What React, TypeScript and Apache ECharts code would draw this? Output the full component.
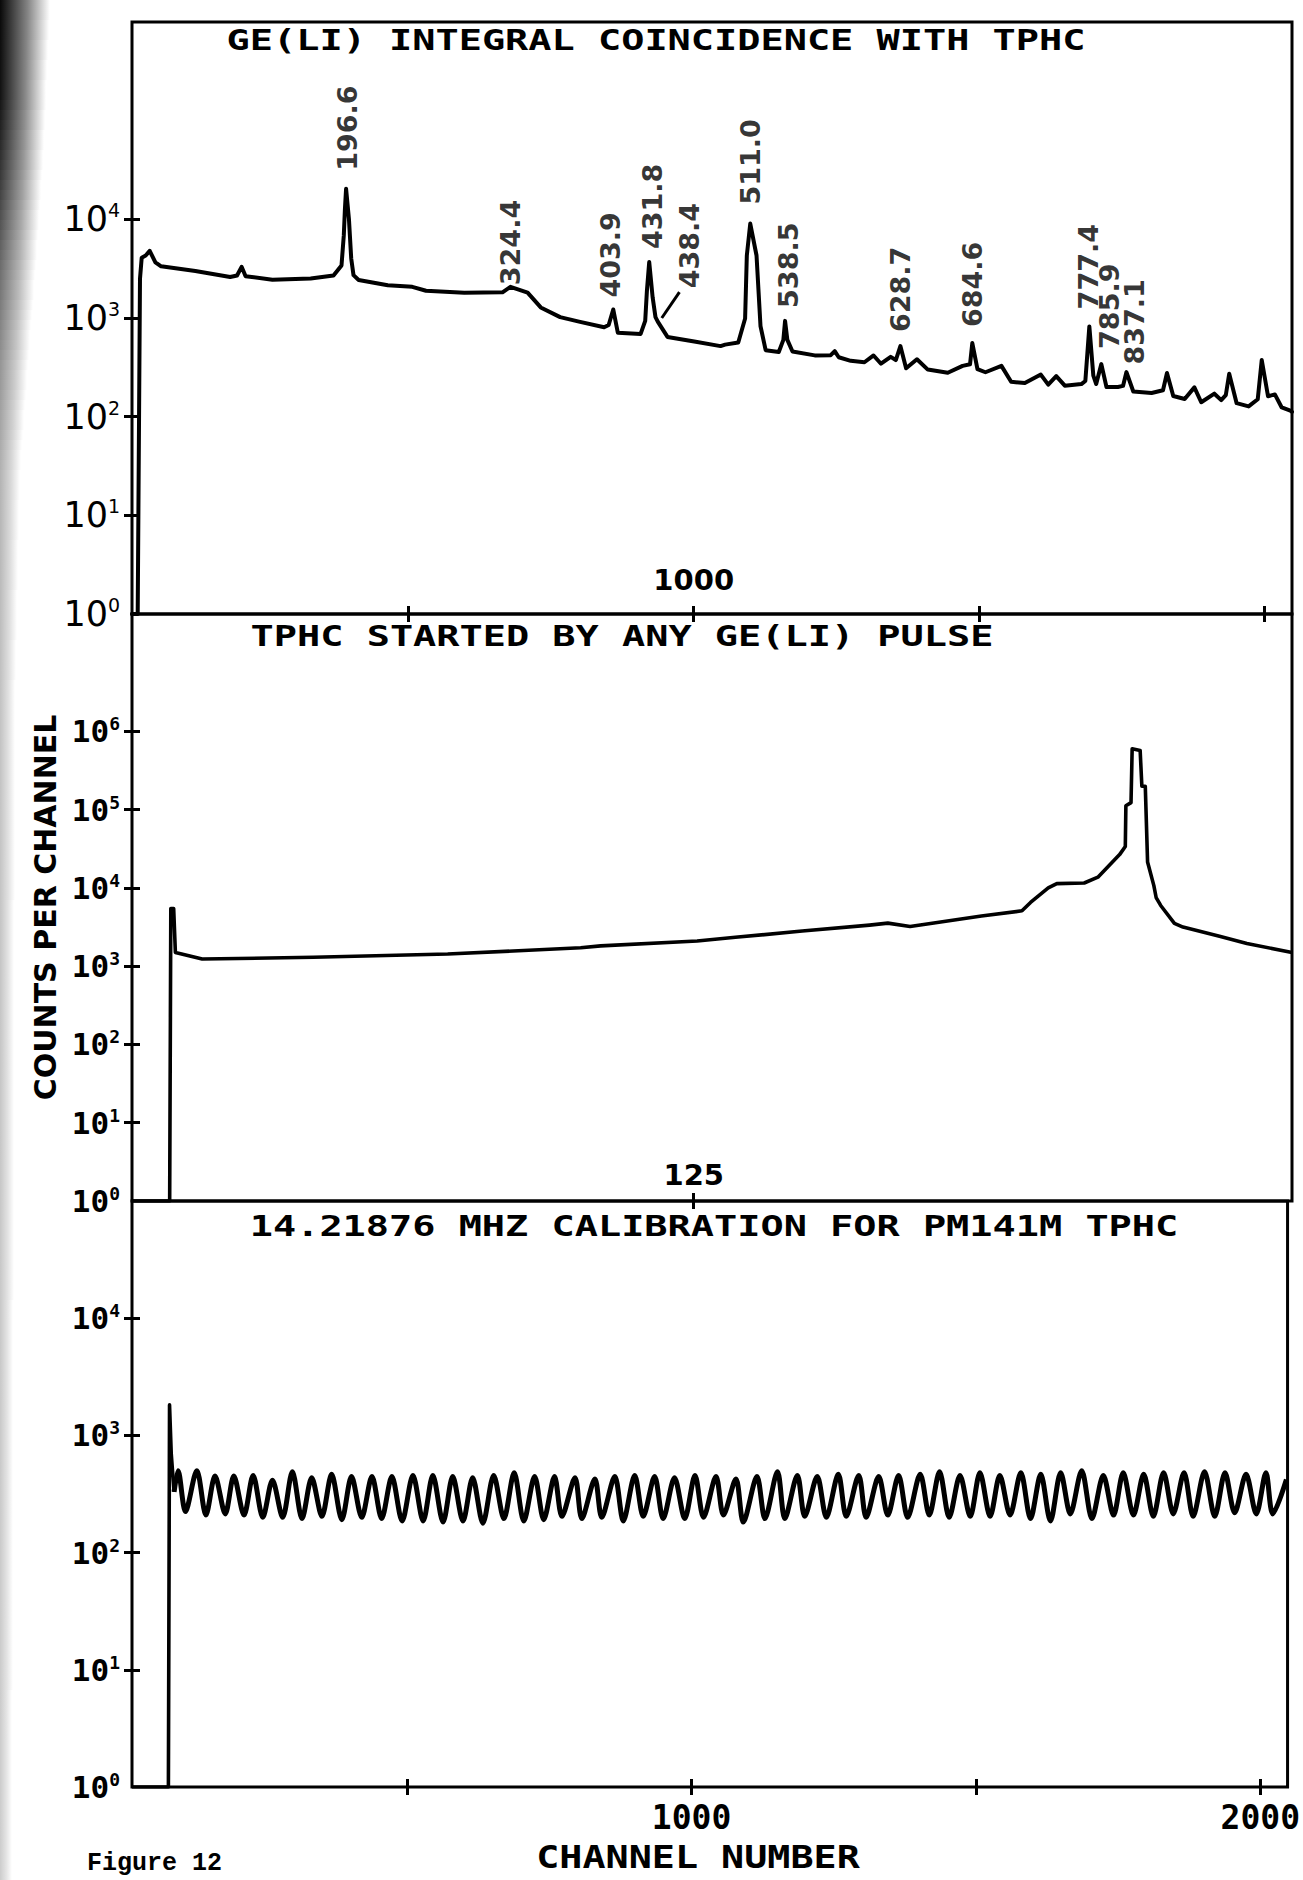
import React, { useEffect, useRef } from "react";
import * as echarts from "echarts";

// ---------- shared channel axis ----------
const CH_MIN = 16;
const CH_MAX = 2048;
const channelTicks = [500, 1000, 1500, 2000];
const topPanelLabelChannels = [1000];
const midPanelTickChannels = [1000];
const midPanelTickLabel = "125";
const bottomPanelLabelChannels = [1000, 2000];

// ---------- panel 1: Ge(Li) integral coincidence with TPHC ----------
const geliChannels = [
  16, 26, 30, 33, 40, 47, 57, 67, 127, 188,
  200, 208, 215, 262, 329, 369, 383, 387, 389, 391,
  396, 400, 404, 413, 464, 507, 531, 598, 665, 679,
  709, 732, 766, 799, 843, 851, 859, 867, 907, 915,
  918, 922, 928, 933, 937, 954, 1001, 1047, 1055, 1078,
  1090, 1093, 1099, 1110, 1117, 1126, 1149, 1157, 1160, 1164,
  1173, 1212, 1240, 1247, 1254, 1275, 1299, 1315, 1328, 1345,
  1354, 1362, 1372, 1391, 1410, 1445, 1471, 1484, 1488, 1497,
  1511, 1539, 1556, 1580, 1608, 1621, 1635, 1650, 1679, 1686,
  1693, 1700, 1705, 1714, 1723, 1743, 1752, 1758, 1770, 1802,
  1822, 1829, 1840, 1860, 1877, 1889, 1912, 1924, 1932, 1938,
  1951, 1972, 1988, 1995, 2006, 2018, 2030, 2045, 2048,
];
const geliCounts = [
  1, 1, 2500, 4090, 4300, 4790, 3670, 3340, 3000, 2600,
  2700, 3300, 2650, 2445, 2520, 2700, 3410, 6870, 12800, 20400,
  10100, 4010, 2720, 2430, 2150, 2070, 1890, 1800, 1820, 2070,
  1810, 1280, 1020, 918, 805, 850, 1220, 710, 690, 935,
  1890, 3690, 1620, 1020, 918, 643, 577, 519, 537, 564,
  988, 4290, 9050, 4300, 824, 472, 453, 600, 935, 600,
  457, 418, 420, 461, 400, 368, 356, 417, 344, 404,
  375, 519, 309, 382, 300, 279, 327, 340, 557, 304,
  282, 327, 226, 219, 267, 211, 258, 206, 214, 230,
  820, 260, 214, 341, 200, 200, 205, 283, 180, 174,
  185, 277, 162, 151, 198, 140, 171, 147, 165, 272,
  137, 127, 150, 375, 161, 168, 124, 115, 112,
];

// gamma-ray energies (keV); each label starts at (channel, counts) and reads upward
const peakEnergies = ["196.6", "324.4", "403.9", "431.8", "438.4", "511.0", "538.5", "628.7", "684.6", "777.4", "785.9", "837.1"];
const peakLabelChannels = [393, 679, 854, 927, 993, 1100, 1166, 1363, 1488, 1692, 1729, 1772];
const peakLabelCounts = [31000, 2150, 1610, 5000, 2000, 14100, 1265, 720, 809, 1222, 486, 337];

// pointer from the 438.4 label to its shoulder
const leaderChannels = [944, 975];
const leaderCounts = [1000, 1830];

// ---------- panel 2: TPHC started by any Ge(Li) pulse ----------
const tphcChannels = [
  16, 82, 84, 89, 92, 139, 334, 569, 802, 837,
  1006, 1073, 1190, 1308, 1340, 1379, 1504, 1575, 1590, 1621,
  1636, 1684, 1708, 1746, 1756, 1757, 1766, 1768, 1782, 1785,
  1791, 1795, 1806, 1810, 1818, 1842, 1857, 1921, 1969, 2048,
];
const tphcCounts = [
  1, 1, 5460, 5460, 1500, 1235, 1300, 1430, 1720, 1820,
  2100, 2340, 2810, 3350, 3550, 3210, 4370, 5100, 6520, 10000,
  11360, 11560, 13740, 26650, 33900, 112000, 123000, 600000, 571000, 199000,
  199000, 21500, 10700, 7540, 5970, 3520, 3160, 2420, 1950, 1500,
];

// ---------- panel 3: 14.21876 MHz calibration ----------
const calLeadChannels = [16, 80, 82, 85, 90];
const calLeadCounts = [1, 1, 1820, 700, 330];
const calPeakChannels = [
  97, 130, 162, 195, 229, 263, 298, 332, 367, 402,
  438, 473, 510, 545, 580, 615, 652, 688, 724, 759,
  795, 830, 865, 900, 935, 970, 1006, 1043, 1078, 1115,
  1151, 1186, 1221, 1258, 1294, 1329, 1364, 1402, 1436, 1472,
  1507, 1542, 1579, 1614, 1649, 1686, 1724, 1759, 1795, 1830,
  1866, 1902, 1938, 1975, 2010,
];
const calPeakCounts = [
  500, 500, 450, 450, 455, 415, 490, 435, 465, 445,
  445, 445, 455, 455, 445, 435, 455, 480, 445, 445,
  435, 425, 445, 455, 445, 435, 455, 445, 425, 445,
  490, 455, 445, 465, 455, 445, 455, 465, 490, 455,
  480, 455, 480, 465, 480, 500, 455, 480, 465, 480,
  480, 490, 480, 465, 480,
];
const calTroughChannels = [
  110, 146, 180, 213, 246, 281, 315, 350, 385, 420,
  455, 491, 528, 563, 598, 633, 670, 705, 740, 772,
  807, 842, 880, 915, 950, 988, 1021, 1056, 1091, 1129,
  1164, 1199, 1237, 1272, 1307, 1345, 1380, 1418, 1453, 1490,
  1525, 1560, 1596, 1631, 1666, 1704, 1742, 1777, 1812, 1847,
  1882, 1920, 1955, 1993, 2022,
];
const calTroughCounts = [
  224, 209, 214, 209, 200, 200, 195, 204, 191, 200,
  195, 186, 186, 182, 186, 178, 195, 186, 191, 204,
  195, 200, 186, 204, 195, 195, 200, 209, 182, 195,
  195, 204, 200, 204, 200, 209, 200, 209, 200, 204,
  204, 209, 195, 186, 214, 195, 209, 209, 204, 214,
  204, 204, 219, 214, 214,
];
const calTailChannel = 2046;
const calTailCount = 420;

// ---------- decade ticks ----------
const topDecadeTicks = [10, 100, 1e3, 1e4];
const topDecadeLabels = [1, 10, 100, 1e3, 1e4];
const midDecadeTicks = [10, 100, 1e3, 1e4, 1e5, 1e6];
const midDecadeLabels = [1, 10, 100, 1e3, 1e4, 1e5, 1e6];
const lowDecadeTicks = [10, 100, 1e3, 1e4];
const lowDecadeLabels = [1, 10, 100, 1e3, 1e4];

const TOP_MAX = 1e6;
const MID_MAX = Math.pow(10, 7.5);
const LOW_MAX = 1e5;

// ---------- styling ----------
const INK = "#000";
const PLOTTER_FONT = "DejaVu Sans Mono";
const LETTER_FONT = "DejaVu Sans";
const GRID_LEFT = 132;
const GRID_WIDTH = 1160;

// darkened page edge along the binding: [y, width, opacity]
const edgeShadeStops = [
  [0, 50, 0.97],
  [90, 46, 0.93],
  [170, 42, 0.78],
  [260, 36, 0.58],
  [360, 28, 0.42],
  [470, 20, 0.3],
  [700, 15, 0.24],
  [1880, 12, 0.2],
];

const zip = (xs: number[], ys: number[]) => xs.map((x, i) => [x, ys[i]]);
const decadeLabel = (v: number) => `{b|10}{s|${Math.round(Math.log10(v))}}`;

const richLetter = {
  b: { fontFamily: LETTER_FONT, fontSize: 35, color: INK, lineHeight: 37 },
  s: { fontFamily: LETTER_FONT, fontSize: 19, color: INK, verticalAlign: "top", lineHeight: 19 },
};
const richPlotter = {
  b: { fontFamily: PLOTTER_FONT, fontWeight: "bold", fontSize: 31, color: INK, lineHeight: 33 },
  s: { fontFamily: PLOTTER_FONT, fontWeight: "bold", fontSize: 18, color: INK, verticalAlign: "top", lineHeight: 18 },
};

const tickLine = { color: INK, width: 3 };

function logAxisPair(gridIndex: number, max: number, ticks: number[], labels: number[], rich: any, extra: any = {}) {
  const base = {
    type: "log",
    logBase: 10,
    gridIndex,
    min: 1,
    max,
    position: "left",
    axisLine: { show: false },
    splitLine: { show: false },
    minorTick: { show: false },
  };
  return [
    {
      ...base,
      ...extra,
      axisTick: { show: true, inside: false, length: 8, customValues: ticks, lineStyle: tickLine },
      axisLabel: { show: true, margin: 12, customValues: labels, formatter: decadeLabel, rich },
    },
    {
      ...base,
      axisTick: { show: true, inside: true, length: 8, customValues: ticks, lineStyle: tickLine },
      axisLabel: { show: false },
    },
  ];
}

function channelAxisPair(gridIndex: number, ticks: number[], insideLabel: any, outsideLabel: any) {
  const base = {
    type: "value",
    gridIndex,
    min: CH_MIN,
    max: CH_MAX,
    position: "bottom",
    axisLine: { show: false },
    splitLine: { show: false },
  };
  return [
    {
      ...base,
      axisTick: { show: true, inside: true, length: 8, customValues: ticks, lineStyle: tickLine },
      axisLabel: insideLabel,
    },
    {
      ...base,
      axisTick: { show: true, inside: false, length: 8, customValues: ticks, lineStyle: tickLine },
      axisLabel: outsideLabel,
    },
  ];
}

function plotterText(text: string, x: number, y: number, fontSize: number, scaleX: number) {
  return {
    type: "text",
    x,
    y,
    scaleX,
    silent: true,
    z: 10,
    style: {
      text,
      fill: INK,
      fontFamily: PLOTTER_FONT,
      fontWeight: "bold",
      fontSize,
      align: "center",
      verticalAlign: "middle",
      textAlign: "center",
      textVerticalAlign: "middle",
    },
  };
}

// abutting horizontal strips that fade the page edge smoothly in both directions
function edgeShade() {
  const strips: any[] = [];
  const step = 10;
  for (let k = 0; k < edgeShadeStops.length - 1; k++) {
    const [y0, w0, a0] = edgeShadeStops[k];
    const [y1, w1, a1] = edgeShadeStops[k + 1];
    for (let y = y0; y < y1; y += step) {
      const t = (y - y0) / (y1 - y0);
      const w = Math.round(w0 + (w1 - w0) * t);
      const a = a0 + (a1 - a0) * t;
      strips.push({
        type: "rect",
        silent: true,
        z: -1,
        shape: { x: 0, y, width: w, height: Math.min(step, y1 - y) },
        style: {
          fill: new echarts.graphic.LinearGradient(0, 0, 1, 0, [
            { offset: 0, color: `rgba(0,0,0,${a.toFixed(3)})` },
            { offset: 0.55, color: `rgba(0,0,0,${(a * 0.5).toFixed(3)})` },
            { offset: 1, color: "rgba(0,0,0,0)" },
          ]),
        },
      });
    }
  }
  return strips;
}

function buildOption() {
  const calWave: number[][] = [[calLeadChannels[calLeadChannels.length - 1], calLeadCounts[calLeadCounts.length - 1]]];
  calPeakChannels.forEach((ch, i) => {
    calWave.push([ch, calPeakCounts[i]]);
    calWave.push([calTroughChannels[i], calTroughCounts[i]]);
  });
  calWave.push([calTailChannel, calTailCount]);

  const peakLabelData = peakLabelChannels.map((ch, i) => [ch, peakLabelCounts[i], peakEnergies[i]]);

  const gridBase = {
    left: GRID_LEFT,
    width: GRID_WIDTH,
    show: true,
    borderColor: INK,
    borderWidth: 3,
    backgroundColor: "transparent",
  };

  return {
    animation: false,
    backgroundColor: "#ffffff",
    textStyle: { fontFamily: LETTER_FONT, color: INK },
    grid: [
      { ...gridBase, top: 22, height: 592 },
      { ...gridBase, top: 614, height: 587 },
      { ...gridBase, top: 1201, height: 586 },
    ],
    xAxis: [
      ...channelAxisPair(
        0,
        channelTicks,
        {
          show: true,
          inside: true,
          margin: 20,
          customValues: topPanelLabelChannels,
          formatter: (v: number) => String(v),
          fontFamily: LETTER_FONT,
          fontWeight: "bold",
          fontSize: 29,
          color: INK,
        },
        { show: false }
      ),
      ...channelAxisPair(
        1,
        midPanelTickChannels,
        {
          show: true,
          inside: true,
          margin: 12,
          customValues: midPanelTickChannels,
          formatter: () => midPanelTickLabel,
          fontFamily: LETTER_FONT,
          fontWeight: "bold",
          fontSize: 29,
          color: INK,
        },
        { show: false }
      ),
      ...channelAxisPair(
        2,
        channelTicks,
        { show: false },
        {
          show: true,
          margin: 14,
          customValues: bottomPanelLabelChannels,
          formatter: (v: number) => String(v),
          fontFamily: PLOTTER_FONT,
          fontWeight: "bold",
          fontSize: 33,
          color: INK,
        }
      ),
    ],
    yAxis: [
      ...logAxisPair(0, TOP_MAX, topDecadeTicks, topDecadeLabels, richLetter),
      ...logAxisPair(1, MID_MAX, midDecadeTicks, midDecadeLabels, richPlotter, {
        name: "COUNTS PER CHANNEL",
        nameLocation: "middle",
        nameRotate: 90,
        nameGap: 64,
        nameTextStyle: { fontFamily: LETTER_FONT, fontWeight: "bold", fontSize: 30, color: INK },
      }),
      ...logAxisPair(2, LOW_MAX, lowDecadeTicks, lowDecadeLabels, richPlotter),
    ],
    series: [
      {
        name: "Ge(Li) coincidence spectrum",
        type: "line",
        xAxisIndex: 0,
        yAxisIndex: 0,
        data: zip(geliChannels, geliCounts),
        symbol: "none",
        silent: true,
        z: 3,
        lineStyle: { color: INK, width: 4, join: "round", cap: "round" },
      },
      {
        name: "Peak energies",
        type: "scatter",
        xAxisIndex: 0,
        yAxisIndex: 0,
        data: peakLabelData,
        symbolSize: 1,
        silent: true,
        itemStyle: { color: "rgba(0,0,0,0)" },
        label: {
          show: true,
          position: "inside",
          rotate: 90,
          align: "left",
          verticalAlign: "middle",
          color: INK,
          fontFamily: LETTER_FONT,
          fontWeight: "bold",
          fontSize: 27,
          formatter: (p: any) => p.data[2],
        },
        z: 4,
      },
      {
        name: "438.4 pointer",
        type: "line",
        xAxisIndex: 0,
        yAxisIndex: 0,
        data: zip(leaderChannels, leaderCounts),
        symbol: "none",
        silent: true,
        lineStyle: { color: INK, width: 3 },
      },
      {
        name: "TPHC spectrum",
        type: "line",
        xAxisIndex: 2,
        yAxisIndex: 2,
        data: zip(tphcChannels, tphcCounts),
        symbol: "none",
        silent: true,
        z: 3,
        lineStyle: { color: INK, width: 3.6, join: "round" },
      },
      {
        name: "Calibration start",
        type: "line",
        xAxisIndex: 4,
        yAxisIndex: 4,
        data: zip(calLeadChannels, calLeadCounts),
        symbol: "none",
        silent: true,
        z: 3,
        lineStyle: { color: INK, width: 3.6, join: "round" },
      },
      {
        name: "Calibration comb",
        type: "line",
        xAxisIndex: 4,
        yAxisIndex: 4,
        data: calWave,
        symbol: "none",
        smooth: 0.3,
        silent: true,
        z: 3,
        lineStyle: { color: INK, width: 5, join: "round" },
      },
    ],
    graphic: [
      ...edgeShade(),
      plotterText("GE(LI) INTEGRAL COINCIDENCE WITH TPHC", 656, 40, 29, 1.33),
      plotterText("TPHC STARTED BY ANY GE(LI) PULSE", 622, 636, 29, 1.33),
      plotterText("14.21876 MHZ CALIBRATION FOR PM141M TPHC", 714, 1226, 29, 1.33),
      plotterText("CHANNEL NUMBER", 698, 1857, 32, 1.2),
      {
        type: "text",
        x: 87,
        y: 1851,
        silent: true,
        style: {
          text: "Figure 12",
          fill: INK,
          fontFamily: "Liberation Mono",
          fontWeight: "bold",
          fontSize: 25,
          align: "left",
          verticalAlign: "top",
          textAlign: "left",
          textVerticalAlign: "top",
        },
      },
    ],
  };
}

export default function App() {
  const ref = useRef<HTMLDivElement>(null);

  useEffect(() => {
    document.body.style.margin = "0";
    document.body.style.overflow = "hidden";
    const el = ref.current;
    if (!el) return;
    const chart = echarts.init(el, null, { renderer: "svg" });
    chart.setOption(buildOption() as any);
    return () => {
      chart.dispose();
    };
  }, []);

  return <div ref={ref} style={{ width: 1303, height: 1880, background: "#ffffff" }} />;
}
